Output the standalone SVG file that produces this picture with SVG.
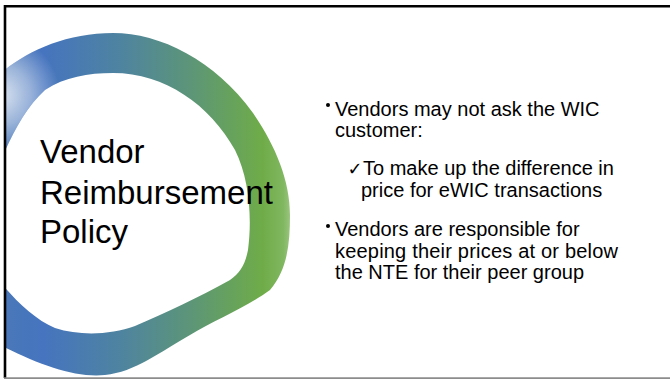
<svg xmlns="http://www.w3.org/2000/svg" width="670" height="379" viewBox="0 0 670 379">
  <defs>
    <linearGradient id="ringGrad" gradientUnits="userSpaceOnUse" x1="0" y1="0" x2="292" y2="0">
      <stop offset="0" stop-color="#4a78b8"/>
      <stop offset="0.15" stop-color="#4674bf"/>
      <stop offset="0.42" stop-color="#4f849f"/>
      <stop offset="0.65" stop-color="#5c9578"/>
      <stop offset="0.9" stop-color="#6fac48"/>
      <stop offset="0.97" stop-color="#80b760"/>
      <stop offset="1" stop-color="#a2c987"/>
    </linearGradient>
    <radialGradient id="fadeGrad" gradientUnits="userSpaceOnUse" cx="0" cy="95" r="60">
      <stop offset="0" stop-color="#ffffff" stop-opacity="0.8"/>
      <stop offset="0.5" stop-color="#ffffff" stop-opacity="0.45"/>
      <stop offset="1" stop-color="#ffffff" stop-opacity="0"/>
    </radialGradient>
    <clipPath id="slideClip">
      <rect x="5" y="6" width="665" height="371"/>
    </clipPath>
    <style>
      .title { font-family: "Liberation Sans", Arial, sans-serif; font-size: 33px; fill: #000000; }
      .body { font-family: "Liberation Sans", Arial, sans-serif; font-size: 20px; fill: #000000; }
      .check { font-family: "DejaVu Sans", sans-serif; font-size: 18px; fill: #000000; }
      .bullet { fill: #000000; }
    </style>
  </defs>
  <rect x="0" y="0" width="670" height="379" fill="#ffffff"/>

  <g id="ring" clip-path="url(#slideClip)">
    <path id="ringShape" fill-rule="evenodd" fill="url(#ringGrad)" d="M 0,74 C 25,52 65,33 113,33 C 160,33 215,60 253,113 C 275,145 290,180 290,215 C 290,245 287,270 270,290 C 250,305 215,320 190,335 C 160,352 135,372 105,375 C 75,378 40,365 0,345 Z M 0,162 C 12,135 25,108 45,90 C 65,77 88,73 113,73 C 165,73 210,105 235,150 C 250,180 252,220 248,250 C 245,265 240,273 230,280 C 200,297 165,313 135,326 C 110,335 80,336 55,328 C 35,320 15,300 0,282 Z"/>
    <path fill-rule="evenodd" fill="url(#fadeGrad)" d="M 0,74 C 25,52 65,33 113,33 C 160,33 215,60 253,113 C 275,145 290,180 290,215 C 290,245 287,270 270,290 C 250,305 215,320 190,335 C 160,352 135,372 105,375 C 75,378 40,365 0,345 Z M 0,162 C 12,135 25,108 45,90 C 65,77 88,73 113,73 C 165,73 210,105 235,150 C 250,180 252,220 248,250 C 245,265 240,273 230,280 C 200,297 165,313 135,326 C 110,335 80,336 55,328 C 35,320 15,300 0,282 Z"/>
  </g>

  <g id="title">
    <text class="title" x="40" y="163">Vendor</text>
    <text class="title" x="40" y="204">Reimbursement</text>
    <text class="title" x="40" y="243">Policy</text>
  </g>

  <g id="bullet1">
    <circle class="bullet" cx="328" cy="105" r="2"/>
    <text class="body" x="335" y="115.5">Vendors may not ask the WIC</text>
    <text class="body" x="335" y="137">customer:</text>
  </g>

  <g id="subbullet">
    <text class="check" x="347.5" y="175">✓</text>
    <text class="body" x="363" y="175">To make up the difference in</text>
    <text class="body" x="361" y="197">price for eWIC transactions</text>
  </g>

  <g id="bullet2">
    <circle class="bullet" cx="328" cy="226" r="2"/>
    <text class="body" x="335" y="236">Vendors are responsible for</text>
    <text class="body" x="335" y="258" textLength="283" lengthAdjust="spacing">keeping their prices at or below</text>
    <text class="body" x="335" y="279">the NTE for their peer group</text>
  </g>

  <g id="frame">
    <line x1="4" y1="6.2" x2="670" y2="6.2" stroke="#000000" stroke-width="2.4"/>
    <line x1="5" y1="5" x2="5" y2="378" stroke="#000000" stroke-width="2.6"/>
    <line x1="4" y1="378.2" x2="670" y2="378.2" stroke="#8c8c8c" stroke-width="1.8"/>
  </g>
</svg>
